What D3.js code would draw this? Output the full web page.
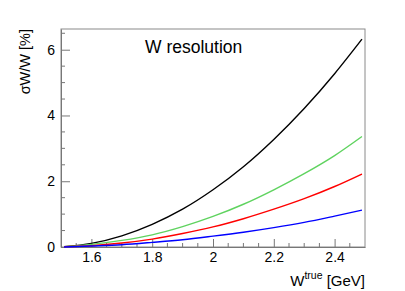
<!DOCTYPE html>
<html>
<head>
<meta charset="utf-8">
<script src="https://cdn.jsdelivr.net/npm/d3@7"></script>
<style>
  body { margin: 0; background: #fff; }
  text { font-family: "Liberation Sans", Arial, sans-serif; fill: #000; }
</style>
</head>
<body>
<script>
const wTrue = [1.51, 1.6, 1.7, 1.8, 1.9, 2.0, 2.1, 2.2, 2.3, 2.4, 2.49];
const resBlack = [0.01, 0.11, 0.34, 0.69, 1.15, 1.74, 2.44, 3.27, 4.21, 5.27, 6.32];
const resGreen = [0.01, 0.08, 0.2, 0.37, 0.62, 0.93, 1.3, 1.74, 2.23, 2.78, 3.36];
const resRed = [0.01, 0.04, 0.12, 0.24, 0.41, 0.61, 0.86, 1.15, 1.47, 1.84, 2.22];
const resBlue = [0.0, 0.03, 0.07, 0.14, 0.22, 0.33, 0.45, 0.59, 0.75, 0.94, 1.12];
const xTicks = [1.6, 1.8, 2.0, 2.2, 2.4];
const yTicks = [0, 2, 4, 6];

const series = [
  {vals: resBlack, color: "#000000"},
  {vals: resGreen, color: "#5fd35f"},
  {vals: resRed, color: "#ff0000"},
  {vals: resBlue, color: "#0000ff"}
];

const width = 405, height = 291;
const m = {left: 61, right: 40, top: 29, bottom: 44};

const x = d3.scaleLinear().domain([1.5, 2.5]).range([m.left, width - m.right]);
const y = d3.scaleLinear().domain([0, 6.63]).range([height - m.bottom, m.top]);

const svg = d3.select("body").append("svg")
    .attr("width", width)
    .attr("height", height);

// frame
svg.append("rect")
    .attr("x", m.left).attr("y", m.top)
    .attr("width", width - m.left - m.right)
    .attr("height", height - m.top - m.bottom)
    .attr("fill", "none")
    .attr("stroke", "#8a8a8a")
    .attr("stroke-width", 1);

// x axis: ticks drawn inward
const xAxis = d3.axisBottom(x)
    .tickValues(xTicks)
    .tickFormat(d3.format("~g"))
    .tickSizeInner(-8).tickSizeOuter(0).tickPadding(5);
const gx = svg.append("g")
    .attr("transform", `translate(0,${height - m.bottom})`)
    .call(xAxis);
gx.select(".domain").attr("stroke", "#777");
gx.selectAll(".tick line").attr("stroke", "#777");
gx.selectAll("text").style("font-size", "14px").attr("fill", "#000");
gx.selectAll(".minor")
    .data(d3.range(1.55, 2.5, 0.05).filter(v => !xTicks.some(t => Math.abs(t - v) < 1e-6)))
    .join("line")
    .attr("x1", d => x(d)).attr("x2", d => x(d))
    .attr("y1", 0).attr("y2", -4)
    .attr("stroke", "#777");

// y axis
const yAxis = d3.axisLeft(y)
    .tickValues(yTicks)
    .tickFormat(d3.format("d"))
    .tickSizeInner(-9).tickSizeOuter(0).tickPadding(6);
const gy = svg.append("g")
    .attr("transform", `translate(${m.left},0)`)
    .call(yAxis);
gy.select(".domain").attr("stroke", "#777");
gy.selectAll(".tick line").attr("stroke", "#777");
gy.selectAll("text").style("font-size", "14px").attr("fill", "#000");
gy.selectAll(".minor")
    .data(d3.range(0.5, 6.6, 0.5).filter(v => v % 2 !== 0))
    .join("line")
    .attr("x1", 0).attr("x2", 4)
    .attr("y1", d => y(d)).attr("y2", d => y(d))
    .attr("stroke", "#777");

// curves
const line = d3.line()
    .x((d, i) => x(wTrue[i]))
    .y(d => y(d))
    .curve(d3.curveMonotoneX);

svg.append("g")
    .attr("fill", "none")
    .attr("stroke-width", 1.4)
    .selectAll("path")
    .data(series)
    .join("path")
    .attr("stroke", d => d.color)
    .attr("d", d => line(d.vals));

// texts
svg.append("text")
    .attr("x", 145).attr("y", 53)
    .style("font-size", "17.5px")
    .text("W resolution");

const xt = svg.append("text")
    .attr("x", width - m.right).attr("y", 286)
    .attr("text-anchor", "end")
    .style("font-size", "15px");
xt.append("tspan").text("W");
xt.append("tspan").attr("dy", -7).style("font-size", "10.5px").text("true");
xt.append("tspan").attr("dy", 7).text(" [GeV]");

svg.append("text")
    .attr("transform", "translate(30,29) rotate(-90)")
    .attr("text-anchor", "end")
    .style("font-size", "14.5px")
    .text("σW/W [%]");
</script>
</body>
</html>
